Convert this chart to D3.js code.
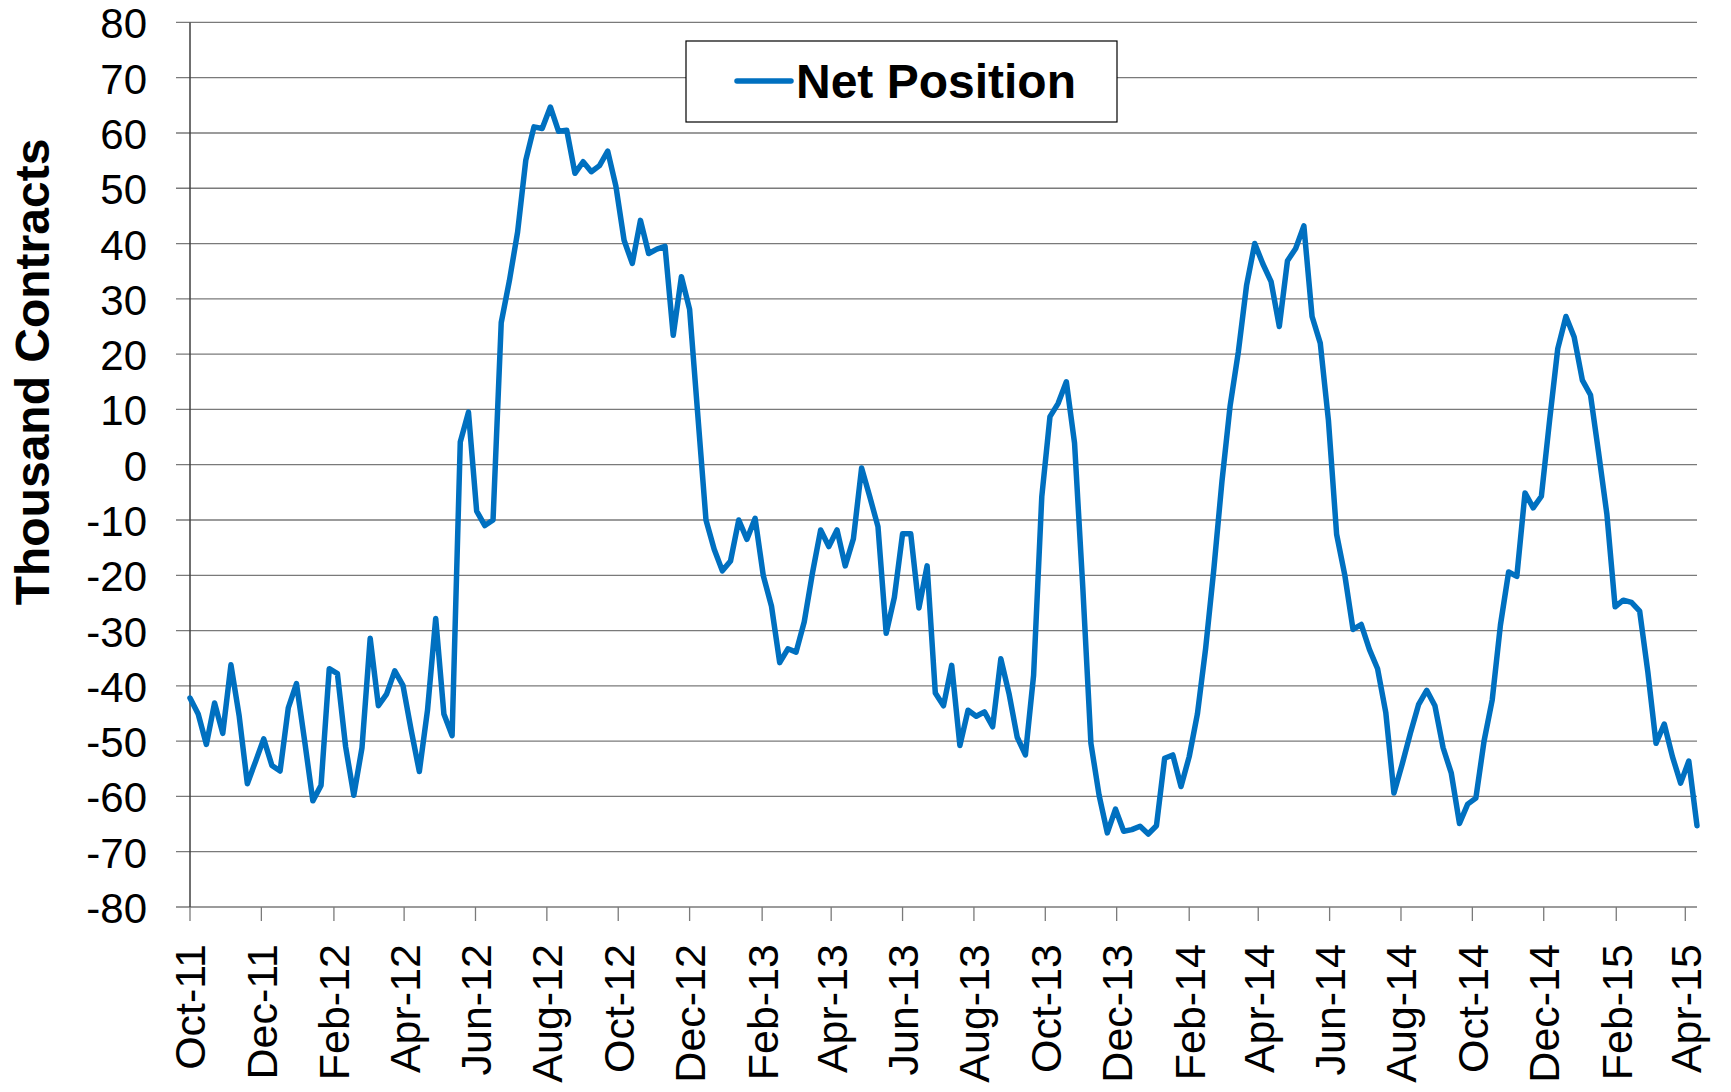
<!DOCTYPE html>
<html>
<head>
<meta charset="utf-8">
<script src="https://cdn.jsdelivr.net/npm/d3@7"></script>
<style>
  body { margin: 0; background: #fff; }
  svg { display: block; font-family: "Liberation Sans", Arial, sans-serif; }
</style>
</head>
<body>
<svg id="chart" width="1731" height="1092"></svg>
<script>
// weekly COT net position, thousand contracts (first report 4 Oct 2011)
const startDate = new Date(2011, 9, 4);
const netPosition = [
  -42.2, -45.1, -50.6, -43.1, -48.6, -36.2, -45.4, -57.7, -53.7, -49.6,
  -54.4, -55.4, -44.0, -39.6, -50.0, -60.8, -58.0, -36.9, -37.8, -51.0,
  -59.8, -51.2, -31.4, -43.6, -41.5, -37.3, -39.9, -48.0, -55.5, -44.4,
  -27.8, -45.1, -49.0, 4.1, 9.5, -8.4, -11.0, -10.0, 25.7, 33.3,
  42.1, 55.1, 61.1, 60.8, 64.7, 60.3, 60.5, 52.7, 54.8, 53.0,
  54.1, 56.7, 50.4, 40.6, 36.4, 44.2, 38.2, 39.0, 39.5, 23.4,
  34.0, 28.1, 9.0, -10.0, -15.3, -19.2, -17.4, -10.0, -13.5, -9.7,
  -20.1, -25.6, -35.8, -33.3, -33.9, -28.4, -19.6, -11.8, -14.8, -11.8,
  -18.3, -13.4, -0.6, -5.8, -11.2, -30.5, -24.0, -12.5, -12.5, -25.9,
  -18.3, -41.3, -43.6, -36.3, -50.8, -44.4, -45.5, -44.7, -47.4, -35.1,
  -41.4, -49.3, -52.5, -38.1, -5.8, 8.7, 11.1, 15.0, 3.9, -22.0,
  -50.4, -59.8, -66.6, -62.3, -66.3, -66.0, -65.4, -66.8, -65.3, -53.1,
  -52.5, -58.2, -52.8, -45.1, -33.3, -19.0, -3.0, 10.7, 20.4, 32.4,
  40.0, 36.3, 33.1, 25.0, 36.9, 39.1, 43.2, 26.8, 22.0, 8.0,
  -12.6, -20.0, -29.8, -28.9, -33.4, -36.9, -44.8, -59.4, -54.2, -48.6,
  -43.4, -40.8, -43.6, -51.2, -55.8, -64.9, -61.4, -60.3, -50.0, -42.5,
  -29.0, -19.4, -20.2, -5.1, -7.8, -5.7, 8.0, 21.0, 26.8, 23.1,
  15.3, 12.6, 2.0, -9.0, -25.7, -24.5, -24.9, -26.5, -37.5, -50.4,
  -46.9, -52.8, -57.6, -53.6, -65.3
];
const xTickLabels = ["Oct-11", "Dec-11", "Feb-12", "Apr-12", "Jun-12", "Aug-12", "Oct-12",
  "Dec-12", "Feb-13", "Apr-13", "Jun-13", "Aug-13", "Oct-13", "Dec-13", "Feb-14",
  "Apr-14", "Jun-14", "Aug-14", "Oct-14", "Dec-14", "Feb-15", "Apr-15"];
const yTicks = [-80, -70, -60, -50, -40, -30, -20, -10, 0, 10, 20, 30, 40, 50, 60, 70, 80];
const seriesName = "Net Position";
const yTitle = "Thousand Contracts";

const dates = netPosition.map((v, i) => d3.timeDay.offset(startDate, 7 * i));
// Excel date axis: major unit 2 months counted from the first date
const tickDates = xTickLabels.map((l, k) => d3.timeMonth.offset(startDate, 2 * k));

const svg = d3.select("#chart");
const plotLeft = 190, plotRight = 1697, plotTop = 22.4, plotBottom = 907;

const x = d3.scaleTime().domain([dates[0], dates[dates.length - 1]]).range([plotLeft, plotRight]);
const y = d3.scaleLinear().domain([-80, 80]).range([plotBottom, plotTop]);

svg.append("rect").attr("width", 1731).attr("height", 1092).attr("fill", "#fff");

// gridlines (also act as y ticks)
svg.append("g").selectAll("line").data(yTicks).join("line")
  .attr("x1", plotLeft - 14).attr("x2", plotRight)
  .attr("y1", d => y(d)).attr("y2", d => y(d))
  .attr("stroke", "#7a7a7a").attr("stroke-width", 1.3);

// y axis line
svg.append("line").attr("x1", plotLeft).attr("x2", plotLeft).attr("y1", plotTop).attr("y2", plotBottom)
  .attr("stroke", "#404040").attr("stroke-width", 1.5);

// x axis ticks
svg.append("g").selectAll("line").data(tickDates).join("line")
  .attr("x1", d => x(d)).attr("x2", d => x(d))
  .attr("y1", plotBottom).attr("y2", plotBottom + 14)
  .attr("stroke", "#7a7a7a").attr("stroke-width", 1.3);

// y tick labels
svg.append("g").selectAll("text").data(yTicks).join("text")
  .attr("x", 147).attr("y", d => y(d)).attr("dy", "0.38em")
  .attr("text-anchor", "end").attr("font-size", 42).attr("fill", "#000")
  .text(d => d);

// x tick labels, rotated
svg.append("g").selectAll("text").data(tickDates).join("text")
  .attr("transform", d => `translate(${x(d)},${944}) rotate(-90)`)
  .attr("dy", "0.36em").attr("text-anchor", "end")
  .attr("font-size", 43).attr("fill", "#000")
  .text((d, i) => xTickLabels[i]);

// y axis title
svg.append("text")
  .attr("transform", "translate(49,372) rotate(-90)")
  .attr("text-anchor", "middle").attr("font-size", 48).attr("font-weight", "bold")
  .text(yTitle);

// series line
const line = d3.line().x((d, i) => x(dates[i])).y(d => y(d));
svg.append("path").datum(netPosition)
  .attr("d", line)
  .attr("fill", "none").attr("stroke", "#0070C0").attr("stroke-width", 5.5)
  .attr("stroke-linejoin", "round").attr("stroke-linecap", "round");

// legend
let lg = svg.append("g");
lg.append("rect").attr("x", 686).attr("y", 41).attr("width", 431).attr("height", 81)
  .attr("fill", "#fff").attr("stroke", "#000").attr("stroke-width", 1.2);
lg.append("line").attr("x1", 737).attr("x2", 791).attr("y1", 81).attr("y2", 81)
  .attr("stroke", "#0070C0").attr("stroke-width", 5.5).attr("stroke-linecap", "round");
lg.append("text").attr("x", 796).attr("y", 98)
  .attr("font-size", 48).attr("font-weight", "bold").text(seriesName);
</script>
</body>
</html>
